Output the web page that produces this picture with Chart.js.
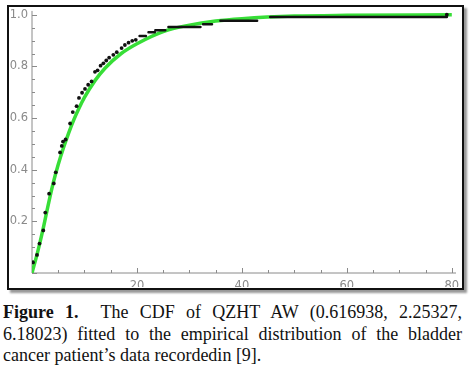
<!DOCTYPE html>
<html>
<head>
<meta charset="utf-8">
<script src="https://cdn.jsdelivr.net/npm/chart.js@4"></script>
<style>
  html, body { margin: 0; padding: 0; background: #fff; }
  body { width: 469px; height: 372px; position: relative; overflow: hidden; }
  #frame {
    position: absolute; left: 7px; top: 5px; width: 453px; height: 281px;
    border: 2px solid #111; box-shadow: 3px 3px 2px #999;
  }
  #wrap { position: absolute; left: 0; top: 0; width: 469px; height: 290px; }
  #caption {
    position: absolute; left: 3px; top: 302px; width: 459px;
    font-family: "Liberation Serif", "Times New Roman", serif; font-size: 18px;
    color: #111; line-height: 21.7px;
  }
  #caption div { text-align: justify; text-align-last: justify; white-space: nowrap; }
  #caption div.last { text-align-last: left; }
</style>
</head>
<body>
<div id="frame"></div>
<div id="wrap"><canvas id="cdfChart" width="469" height="290"></canvas></div>
<div id="caption">
  <div><b>Figure 1.</b>&nbsp; The CDF of QZHT AW (0.616938, 2.25327,</div>
  <div>6.18023) fitted to the empirical distribution of the bladder</div>
  <div class="last">cancer patient’s data recordedin [9].</div>
</div>
<script>
// empirical points
const dotX = [0.19, 0.95, 1.43, 2.15, 2.53, 3.26, 4.15, 4.53, 5.35, 5.68, 5.9, 6.4, 7.26, 7.77, 8.5, 8.95, 9.54, 10.1, 10.7, 11.35, 12.0, 12.5, 13.07, 13.6, 14.15, 14.7, 15.5, 16.15, 17.07, 17.7, 18.4, 19.1, 19.77, 79.05];
const dotY = [0.041, 0.070, 0.114, 0.165, 0.234, 0.307, 0.347, 0.390, 0.467, 0.492, 0.509, 0.517, 0.579, 0.623, 0.646, 0.678, 0.698, 0.713, 0.729, 0.742, 0.779, 0.785, 0.803, 0.812, 0.823, 0.834, 0.845, 0.855, 0.871, 0.883, 0.892, 0.899, 0.903, 1.0];

// horizontal steps of the empirical cdf (upper part)
const stepFrom = [20.5, 22.2, 23.5, 26.0, 32.6, 35.9, 45.4];
const stepTo = [21.7, 23.4, 25.4, 32.1, 34.3, 42.9, 79.05];
const stepY = [0.918, 0.932, 0.94, 0.953, 0.963, 0.977, 0.991];

// fitted QZHT AW cdf
const fitX = [0, 1, 2, 3, 4, 5, 6, 7, 8, 9, 10, 12, 14, 17, 20, 25, 30, 35, 40, 50, 60, 80];
const fitY = [0, 0.075, 0.16, 0.255, 0.345, 0.42, 0.485, 0.543, 0.595, 0.64, 0.68, 0.745, 0.795, 0.85, 0.888, 0.935, 0.96, 0.976, 0.985, 0.995, 0.998, 1.0];

const xLabels = [20, 40, 60, 80];
const yLabels = [0.2, 0.4, 0.6, 0.8, 1.0];

const axisGray = '#8a8a8a';

let stepPts = [];
stepFrom.forEach((s, i) => {
    stepPts.push({x: s, y: stepY[i]});
    stepPts.push({x: stepTo[i], y: stepY[i]});
    stepPts.push({x: stepTo[i], y: null});
});

// axis lines with major and minor ticks, like the original plot
const axesPlugin = {
    id: 'axesPlugin',
    beforeDatasetsDraw(chart) {
        const ctx = chart.ctx;
        const xs = chart.scales.x, ys = chart.scales.y;
        const x0 = xs.getPixelForValue(0), y0 = ys.getPixelForValue(0);
        ctx.save();
        ctx.strokeStyle = axisGray;
        ctx.lineWidth = 1;
        ctx.beginPath();
        ctx.moveTo(x0, y0);
        ctx.lineTo(xs.right, y0);
        ctx.moveTo(x0, y0);
        ctx.lineTo(x0, ys.top);
        for (let v = 0; v <= 80; v += 5) {
            const px = Math.round(xs.getPixelForValue(v)) + 0.5;
            const len = v % 20 === 0 ? 5 : 3;
            ctx.moveTo(px, y0);
            ctx.lineTo(px, y0 - len);
        }
        for (let k = 0; k <= 20; k++) {
            const py = Math.round(ys.getPixelForValue(k * 0.05)) + 0.5;
            const len = k % 4 === 0 ? 5 : 3;
            ctx.moveTo(x0, py);
            ctx.lineTo(x0 + len, py);
        }
        ctx.stroke();
        ctx.restore();
    }
};

document.addEventListener('DOMContentLoaded', (event) => {
    let ctx = document.getElementById('cdfChart').getContext('2d');
    new Chart(ctx, {
        type: 'scatter',
        data: {
            datasets: [{
                label: 'ECDF',
                data: dotX.map((x, i) => ({x: x, y: dotY[i]})),
                backgroundColor: '#111',
                borderColor: '#111',
                pointRadius: 1.9,
                pointBorderWidth: 0,
                showLine: false,
                order: 0
            }, {
                label: 'ECDF steps',
                type: 'line',
                data: stepPts,
                borderColor: '#111',
                borderWidth: 2.5,
                borderCapStyle: 'round',
                pointRadius: 0,
                spanGaps: false,
                order: 1
            }, {
                label: 'QZHT AW',
                type: 'line',
                data: fitX.map((x, i) => ({x: x, y: fitY[i]})),
                borderColor: 'rgb(55, 222, 55)',
                borderWidth: 3.5,
                pointRadius: 0,
                cubicInterpolationMode: 'monotone',
                order: 2
            }]
        },
        options: {
            responsive: false,
            animation: false,
            events: [],
            layout: { padding: { left: 8, right: 13, top: 10, bottom: 3 } },
            plugins: { legend: { display: false }, tooltip: { enabled: false } },
            elements: { line: { clip: false } },
            scales: {
                x: {
                    type: 'linear', min: 0, max: 80.8,
                    grid: { display: false, drawTicks: false },
                    border: { display: false },
                    afterFit: (s) => { s.height = 14; },
                    afterBuildTicks: (s) => { s.ticks = xLabels.map(v => ({value: v})); },
                    ticks: {
                        padding: 6, color: axisGray, maxRotation: 0,
                        font: { family: 'DejaVu Sans', size: 11.5 },
                        callback: (v) => String(v)
                    }
                },
                y: {
                    type: 'linear', min: 0, max: 1.015,
                    grid: { display: false, drawTicks: false },
                    border: { display: false },
                    afterFit: (s) => { s.width = 24; },
                    afterBuildTicks: (s) => { s.ticks = yLabels.map(v => ({value: v})); },
                    ticks: {
                        padding: 4, color: axisGray,
                        font: { family: 'DejaVu Sans', size: 11.5 },
                        callback: (v) => Number(v).toFixed(1)
                    }
                }
            }
        },
        plugins: [axesPlugin]
    });
});
</script>
</body>
</html>
